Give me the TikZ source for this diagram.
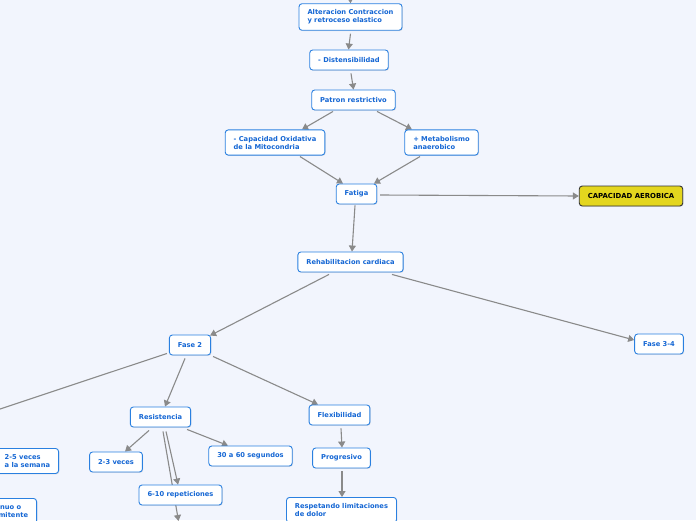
\documentclass[tikz,border=0pt]{standalone}
\usepackage{fontspec}
\setmainfont{DejaVu Sans}
\usepackage{xcolor}
\usetikzlibrary{arrows.meta,shadows,backgrounds}
\definecolor{bgblue}{HTML}{F2F5FD}
\definecolor{boxblue}{HTML}{2A80E0}
\definecolor{txtblue}{HTML}{1466D4}
\definecolor{linegray}{HTML}{8A8A8A}
\definecolor{aeroyellow}{HTML}{E4D61E}

\begin{document}
\begin{tikzpicture}[
  x=1pt,y=-1pt,
  >={Triangle[width=7pt,length=6pt]},
  idea/.style={draw=boxblue,fill=white,rounded corners=3pt,line width=0.9pt,text=txtblue,align=left,
    font=\fontsize{6.7}{8}\selectfont\bfseries,inner xsep=8.5pt,inner ysep=6pt,minimum height=20pt,
    drop shadow={opacity=0.2,shadow xshift=0.8pt,shadow yshift=-0.8pt}},
  goal/.style={idea,draw=black!80,fill=aeroyellow,text=black,font=\fontsize{6.9}{8}\selectfont\bfseries},
  stream/.style={->,draw=linegray,line width=1.1pt}
]
\useasboundingbox (0,0) rectangle (696,520);
\node[idea] (alt) at (350.5,17) {Alteracion Contraccion\\y retroceso elastico};
\node[idea] (dist) at (349,60) {- Distensibilidad};
\node[idea] (patron) at (353.5,100) {Patron restrictivo};
\node[idea] (oxid) at (275,142.5) {- Capacidad Oxidativa\\de la Mitocondria};
\node[idea] (metab) at (441.5,142.5) {+ Metabolismo\\anaerobico};
\node[idea] (fatiga) at (356.5,194) {Fatiga};
\node[goal] (aerob) at (631,196) {CAPACIDAD AEROBICA};
\node[idea] (rehab) at (350.5,262) {Rehabilitacion cardiaca};
\node[idea] (fase34) at (659,344) {Fase 3-4};
\node[idea] (fase2) at (190,345) {Fase 2};
\node[idea] (resist) at (160.5,417) {Resistencia};
\node[idea] (flex) at (339.5,415) {Flexibilidad};
\node[idea,anchor=north east] (semana) at (59,448) {2-5 veces\\a la semana};
\node[idea] (veces) at (116,462) {2-3 veces};
\node[idea] (seg) at (250.5,456) {30 a 60 segundos};
\node[idea] (prog) at (341.5,458) {Progresivo};
\node[idea] (rep) at (180.5,495) {6-10 repeticiones};
\node[idea,anchor=north] (dolor) at (341.5,497) {Respetando limitaciones\\de dolor};
\node[idea,anchor=north east] (contin) at (37,498) {Continuo o\\intermitente};
\coordinate (root) at (350,-12);
\coordinate (offleft) at (-60,429);
\coordinate (offdown) at (178.5,521);
\begin{scope}[on background layer]
\fill[bgblue] (0,0) rectangle (696,520);
\draw[stream] (root) -- (alt.north);
\draw[stream] ([yshift=-3pt]alt.south) -- ([xshift=-0.5pt]dist.north);
\draw[stream] ([xshift=2pt,yshift=-3pt]dist.south) -- (patron.north);
\draw[stream] ([xshift=-20.5pt,yshift=-1pt]patron.south) -- ([xshift=27pt]oxid.north);
\draw[stream] ([xshift=23.5pt,yshift=-1pt]patron.south) -- ([xshift=-29.5pt]metab.north);
\draw[stream] ([xshift=25pt,yshift=-1pt]oxid.south) -- ([xshift=-13.5pt]fatiga.north);
\draw[stream] ([xshift=-21.5pt,yshift=-1pt]metab.south) -- ([xshift=17.5pt]fatiga.north);
\draw[stream] ([xshift=3pt,yshift=-1pt]fatiga.east) -- (aerob.west);
\draw[stream] ([xshift=-1.5pt,yshift=-1pt]fatiga.south) -- ([xshift=1.5pt]rehab.north);
\draw[stream] ([xshift=-21.5pt,yshift=-2pt]rehab.south) -- ([xshift=-1pt,yshift=-1pt]fase2.north east);
\draw[stream] ([xshift=41.5pt,yshift=-2pt]rehab.south) -- ([yshift=4pt]fase34.west);
\draw[linegray,line width=1.1pt] ([xshift=-2pt,yshift=2pt]fase2.south west) -- (offleft);
\draw[stream] ([xshift=-5pt,yshift=-3pt]fase2.south) -- ([xshift=4.5pt]resist.north);
\draw[stream] ([xshift=2pt,yshift=-1pt]fase2.south east) -- ([xshift=-21.5pt]flex.north);
\draw[stream] ([xshift=-11.5pt,yshift=-3pt]resist.south) -- ([xshift=9pt]veces.north);
\draw[stream] ([xshift=-4pt,yshift=-2pt]resist.south east) -- ([xshift=-22.5pt]seg.north);
\draw[stream] ([xshift=5.5pt,yshift=-4pt]resist.south) -- ([xshift=-2.5pt]rep.north);
\draw[stream] ([xshift=2.5pt,yshift=-4pt]resist.south) -- (offdown);
\draw[stream] ([xshift=1.5pt,yshift=-3pt]flex.south) -- ([xshift=0.5pt]prog.north);
\draw[stream] ([xshift=0.5pt,yshift=-3pt]prog.south) -- ([xshift=0.5pt]dolor.north);
\end{scope}
\end{tikzpicture}
\end{document}
